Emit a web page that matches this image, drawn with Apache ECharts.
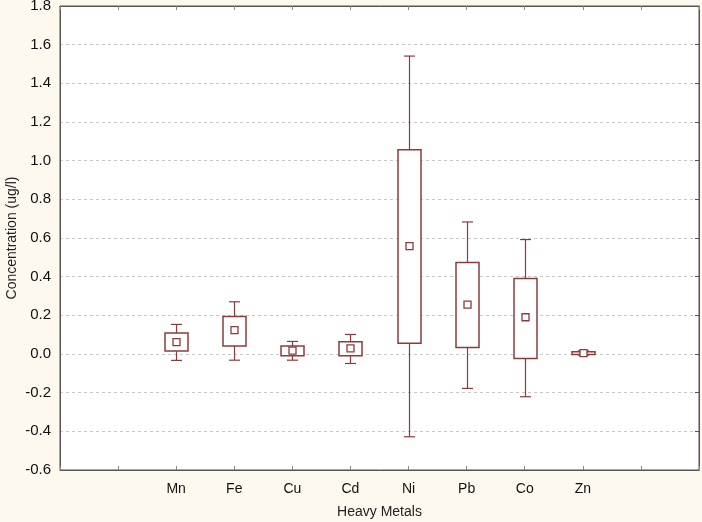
<!DOCTYPE html>
<html>
<head>
<meta charset="utf-8">
<script src="https://cdn.jsdelivr.net/npm/echarts@6/dist/echarts.min.js"></script>
<style>html,body{margin:0;padding:0;background:#fdf9ef;}#c{width:702px;height:522px;}</style>
</head>
<body>
<div id="c"></div>
<script>
var categories = ['', '', 'Mn', 'Fe', 'Cu', 'Cd', 'Ni', 'Pb', 'Co', 'Zn', '', ''];
var metals = ['Mn', 'Fe', 'Cu', 'Cd', 'Ni', 'Pb', 'Co', 'Zn'];
var whiskerHigh = [0.153, 0.270, 0.065, 0.101, 1.541, 0.683, 0.592, 0.016];
var boxHigh     = [0.108, 0.194, 0.041, 0.063, 1.057, 0.473, 0.391, 0.012];
var means       = [0.061, 0.123, 0.017, 0.029, 0.558, 0.255, 0.190, 0.005];
var boxLow      = [0.015, 0.042, -0.009, -0.009, 0.055, 0.034, -0.023, -0.002];
var whiskerLow  = [-0.033, -0.032, -0.032, -0.049, -0.428, -0.178, -0.221, -0.006];
var yTicks = [-0.6, 1.8, 0.2];

var data = metals.map(function (m, i) {
  return [m, whiskerLow[i], boxLow[i], means[i], boxHigh[i], whiskerHigh[i]];
});

var LC = '#8a3c3c';
var chart = echarts.init(document.getElementById('c'));
chart.setOption({
  backgroundColor: '#fdf9ef',
  animation: false,
  grid: { left: 60, right: 3, top: 6, bottom: 52, containLabel: false, outerBoundsMode: 'none',
    show: true, backgroundColor: '#ffffff', borderColor: '#555', borderWidth: 1 },
  xAxis: [{
    type: 'category', data: categories, boundaryGap: false,
    name: 'Heavy Metals', nameLocation: 'middle', nameGap: 35, nameMoveOverlap: false,
    nameTextStyle: { fontFamily: 'Liberation Sans', fontSize: 14, color: '#222' },
    axisLine: { onZero: false, lineStyle: { color: '#555' } },
    axisTick: { inside: true, length: 4, lineStyle: { color: '#888' } },
    axisLabel: { fontFamily: 'Liberation Sans', fontSize: 14, color: '#111', margin: 12 },
    splitLine: { show: false }
  }, {
    type: 'category', data: categories, boundaryGap: false, position: 'top',
    axisLine: { onZero: false, lineStyle: { color: '#555' } },
    axisTick: { inside: true, length: 4, lineStyle: { color: '#888' } },
    axisLabel: { show: false }
  }],
  yAxis: [{
    type: 'value', min: yTicks[0], max: yTicks[1], interval: yTicks[2],
    name: 'Concentration (ug/l)', nameLocation: 'middle', nameGap: 41, nameMoveOverlap: false,
    nameTextStyle: { fontFamily: 'Liberation Sans', fontSize: 14, color: '#222' },
    axisLine: { show: true, onZero: false, lineStyle: { color: '#555' } },
    axisTick: { show: false },
    axisLabel: { fontFamily: 'Liberation Sans', fontSize: 15, color: '#111', margin: 9,
      formatter: function (v) { return v.toFixed(1); } },
    splitLine: { lineStyle: { color: '#c8c8c8', type: [3, 3] } }
  }, {
    type: 'value', min: yTicks[0], max: yTicks[1], interval: yTicks[2], position: 'right',
    axisLine: { show: true, onZero: false, lineStyle: { color: '#555' } },
    axisTick: { show: true, inside: true, length: 4, lineStyle: { color: '#555' } },
    axisLabel: { show: false }, splitLine: { show: false }
  }],
  series: [{
    type: 'custom',
    data: data,
    encode: { x: 0, y: [1, 2, 3, 4, 5] },
    renderItem: function (params, api) {
      var x = api.value(0);
      var pWL = api.coord([x, api.value(1)]);
      var pBL = api.coord([x, api.value(2)]);
      var pM = api.coord([x, api.value(3)]);
      var pBH = api.coord([x, api.value(4)]);
      var pWH = api.coord([x, api.value(5)]);
      var cx = Math.round(pM[0]) + 0.5;
      var bw = 23, cw = 11, ms = 7;
      var st = { stroke: LC, lineWidth: 1.2, fill: null };
      return {
        type: 'group',
        children: [
          { type: 'line', shape: { x1: cx, y1: pWH[1], x2: cx, y2: pBH[1] }, style: st },
          { type: 'line', shape: { x1: cx, y1: pBL[1], x2: cx, y2: pWL[1] }, style: st },
          { type: 'line', shape: { x1: cx - cw / 2, y1: pWH[1], x2: cx + cw / 2, y2: pWH[1] }, style: st },
          { type: 'line', shape: { x1: cx - cw / 2, y1: pWL[1], x2: cx + cw / 2, y2: pWL[1] }, style: st },
          { type: 'rect', shape: { x: cx - bw / 2, y: pBH[1], width: bw, height: pBL[1] - pBH[1] },
            style: { stroke: LC, lineWidth: 1.5, fill: '#fff' } },
          { type: 'rect', shape: { x: cx - ms / 2, y: pM[1] - ms / 2, width: ms, height: ms },
            style: { stroke: LC, lineWidth: 1.3, fill: '#fff' } }
        ]
      };
    }
  }]
});
</script>
</body>
</html>
